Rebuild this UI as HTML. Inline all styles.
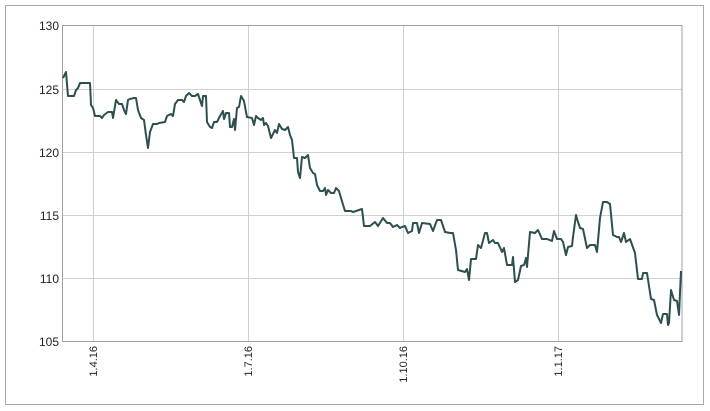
<!DOCTYPE html>
<html><head><style>
body{margin:0;background:#fff;}
svg{display:block;font-family:"Liberation Sans",sans-serif;}
</style></head><body>
<svg width="710" height="411" xmlns="http://www.w3.org/2000/svg">
<rect x="5.5" y="5.5" width="698" height="399" fill="#fff" stroke="#aaa"/>
<g stroke="#d0d0d0" stroke-width="1">
<line x1="62" y1="89.5" x2="682" y2="89.5"/>
<line x1="62" y1="152.5" x2="682" y2="152.5"/>
<line x1="62" y1="215.5" x2="682" y2="215.5"/>
<line x1="62" y1="278.5" x2="682" y2="278.5"/>
<line x1="93.5" y1="25" x2="93.5" y2="341"/>
<line x1="248.5" y1="25" x2="248.5" y2="341"/>
<line x1="403.5" y1="25" x2="403.5" y2="341"/>
<line x1="558.5" y1="25" x2="558.5" y2="341"/>
</g>
<rect x="62.5" y="25.5" width="619.5" height="316" fill="none" stroke="#a0a0a0"/>
<g font-size="12" fill="#222" text-anchor="end">
<text x="59" y="30">130</text>
<text x="59" y="94">125</text>
<text x="59" y="157">120</text>
<text x="59" y="220">115</text>
<text x="59" y="283">110</text>
<text x="59" y="346">105</text>
</g>
<g font-size="11" fill="#222" text-anchor="end">
<text transform="translate(97,346) rotate(-90)">1.4.16</text>
<text transform="translate(252,346) rotate(-90)">1.7.16</text>
<text transform="translate(407,346) rotate(-90)">1.10.16</text>
<text transform="translate(562,346) rotate(-90)">1.1.17</text>
</g>
<polyline fill="none" stroke="#2d4f4f" stroke-width="2" stroke-linejoin="round" points="
63,78 66,72 68,96 74,96 76,90 78,88 80,83 90,83 91,105 93,108 95,116 100,116 102,118 104,115 108,112 112,112 113,118 116,100 119,104 122,104 124,110 126,114 128,100 130,99 134,98 136,98 138,110 141,118 144,120 146,135 148,148 150,132 153,124 157,124 159,123 165,122 167,116 171,114 173,116 175,104 178,100 182,100 184,102 186,96 189,93 192,96 195,96 198,94 200,100 202,106 203,96 206,96 207,122 210,127 212,128 214,122 217,122 220,116 223,111 224,119 226,113 229,113 230,127 232,127 234,119 235,130 237,108 239,107 241,96 244,101 246,112 247,117 252,118 254,125 256,116 258,118 261,120 263,118 264,125 266,123 268,126 271,138 275,130 277,133 279,124 282,129 285,130 288,127 290,135 292,140 294,158 297,158 298,172 300,178 302,157 305,158 308,155 310,168 313,173 315,174 317,185 320,191 323,191 325,188 326,195 328,190 331,193 334,193 336,188 339,191 341,198 345,211 351,211 353,212 362,209 364,226 370,226 375,222 378,226 383,218 387,223 390,223 393,227 397,225 400,228 402,227 405,226 408,233 412,231 413,223 417,223 419,233 422,223 430,224 433,231 437,220 441,220 445,232 450,233 453,233 456,250 458,270 465,272 467,269 469,280 471,259 476,259 478,245 481,248 485,233 487,233 489,243 493,240 495,243 498,243 502,252 504,248 507,265 512,265 513,257 515,282 518,280 521,266 524,265 526,258 527,267 530,232 535,233 538,230 542,239 547,239 552,241 554,231 557,239 561,239 563,242 566,255 568,247 572,246 573,237 576,215 578,222 580,228 583,229 587,248 590,245 595,245 597,252 600,218 603,202 607,202 610,204 613,235 617,237 619,237 621,242 624,233 626,242 630,239 635,253 638,279 642,279 643,273 647,273 651,299 654,300 657,315 661,323 663,314 667,314 668,325 669,323 671,290 674,300 677,301 679,315 681,271"/>
</svg>
</body></html>
